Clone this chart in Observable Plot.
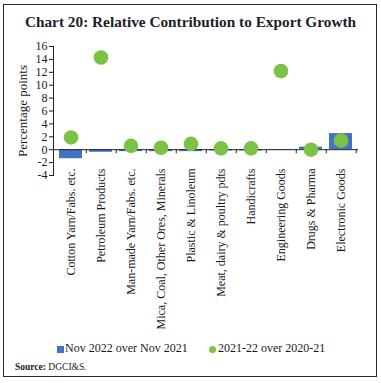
<!DOCTYPE html>
<html>
<head>
<meta charset="utf-8">
<script src="https://cdn.jsdelivr.net/npm/d3@7"></script>
<script src="https://cdn.jsdelivr.net/npm/@observablehq/plot@0.6"></script>
<style>
  body { margin: 0; background: #fff; width: 381px; height: 383px; position: relative; overflow: hidden; font-family: "Liberation Serif", serif; color: #1a1a1a; }
  #frame { position: absolute; left: 3px; top: 4px; width: 372px; height: 371px; border: 1.5px solid #2a2a2a; }
  #title { position: absolute; left: 0; width: 381px; top: 13px; text-align: center; font-weight: bold; font-size: 15.3px; color: #1c1c2c; white-space: nowrap; }
  #chart { position: absolute; left: 0; top: 35px; }
  #legend { position: absolute; left: 0; width: 381px; top: 343px; font-size: 12px; white-space: nowrap; }
  #legend span.item { position: absolute; }
  #source { position: absolute; left: 15px; top: 362px; font-size: 9.5px; }
</style>
</head>
<body>
<div id="frame"></div>
<div id="title">Chart 20: Relative Contribution to Export Growth</div>
<div id="chart"></div>
<div id="legend"></div>
<div id="source"><b>Source:</b> DGCI&amp;S.</div>
<script>
const categories = [
  "Cotton Yarn/Fabs. etc.",
  "Petroleum Products",
  "Man-made Yarn/Fabs. etc.",
  "Mica, Coal, Other Ores, Minerals",
  "Plastic & Linoleum",
  "Meat, dairy & poultry pdts",
  "Handicrafts",
  "Engineering Goods",
  "Drugs & Pharma",
  "Electronic Goods"
];
const nov2022 = [-1.4, -0.4, -0.3, -0.3, -0.3, -0.2, -0.2, -0.1, 0.4, 2.5];
const fy2122 = [1.9, 14.3, 0.6, 0.3, 0.9, 0.2, 0.2, 12.2, 0.0, 1.4];
const seriesNames = ["Nov 2022 over Nov 2021", "2021-22 over 2020-21"];
const yTicks = [-4, -2, 0, 2, 4, 6, 8, 10, 12, 14, 16];
const colors = ["#4472C4", "#7CC244"];

const data = categories.map((c, i) => ({cat: c, bar: nov2022[i], dot: fy2122[i]}));

const W = 381, ML = 53, MR = 23;
const step = (W - ML - MR) / categories.length;

const plot = Plot.plot({
  width: W,
  height: 305,
  marginLeft: ML,
  marginRight: MR,
  marginTop: 11,
  marginBottom: 165,
  style: {fontFamily: "Liberation Serif, serif", fontSize: "12px", color: "#1a1a1a", background: "transparent"},
  x: {domain: categories, paddingInner: 0.22, paddingOuter: 0.11, axis: null},
  y: {domain: [-4, 16], axis: null},
  marks: [
    Plot.barY(data, {x: "cat", y: "bar", fill: colors[0]}),
    Plot.ruleY([0], {stroke: "#222", strokeWidth: 1}),
    Plot.ruleX(data, {x: "cat", dx: step / 2, y1: 0, y2: -0.62, stroke: "#222", strokeWidth: 1}),
    Plot.dot(data, {x: "cat", y: "dot", r: 7.3, fill: colors[1], stroke: "none"}),
    Plot.frame({anchor: "left", stroke: "#222"}),
    Plot.axisY({ticks: yTicks, tickSize: 4, tickPadding: 2, tickFormat: d => String(d), label: null, fontSize: 12}),
    Plot.text(["Percentage points"], {frameAnchor: "left", dx: -31, rotate: -90, fontSize: 13, textAnchor: "middle"}),
    Plot.text(categories, {x: d => d, frameAnchor: "bottom", dy: -7, rotate: -90, textAnchor: "end", lineAnchor: "middle", fontSize: 12})
  ]
});
document.getElementById("chart").appendChild(plot);

const legend = document.getElementById("legend");
legend.innerHTML =
  `<span class="item" style="left:57px;top:3px;width:7px;height:7px;background:${colors[0]}"></span>` +
  `<span class="item" style="left:65px;top:-2px">${seriesNames[0]}</span>` +
  `<span class="item" style="left:209px;top:3px;width:7px;height:7px;border-radius:50%;background:${colors[1]}"></span>` +
  `<span class="item" style="left:218px;top:-2px">${seriesNames[1]}</span>`;
</script>
</body>
</html>
